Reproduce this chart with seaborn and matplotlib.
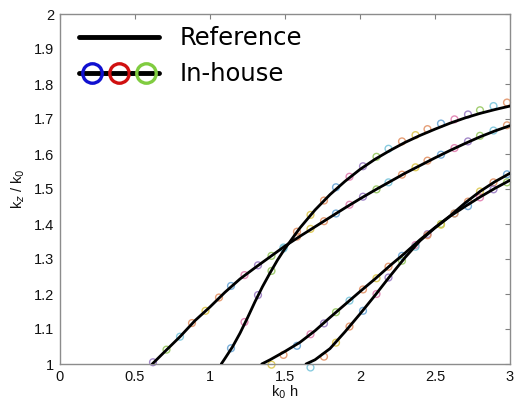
import numpy as np
import pandas as pd
import seaborn as sns
import matplotlib.pyplot as plt
from matplotlib.lines import Line2D
from matplotlib.legend_handler import HandlerTuple

# Reference curves (solid black)
ref1_x = [0.615, 0.70, 0.80, 0.90, 1.00, 1.10, 1.20, 1.30, 1.40, 1.50, 1.60, 1.70, 1.80,
          1.90, 2.00, 2.10, 2.20, 2.30, 2.40, 2.50, 2.60, 2.70, 2.80, 2.90, 3.00]
ref1_y = [1.000, 1.036, 1.078, 1.124, 1.163, 1.205, 1.243, 1.275, 1.306, 1.337, 1.365, 1.392, 1.419,
          1.446, 1.472, 1.497, 1.521, 1.545, 1.567, 1.589, 1.610, 1.630, 1.649, 1.666, 1.681]

ref2_x = [1.075, 1.10, 1.15, 1.20, 1.25, 1.30, 1.35, 1.40, 1.45, 1.50, 1.60, 1.70, 1.80, 1.90,
          2.00, 2.10, 2.20, 2.30, 2.40, 2.50, 2.60, 2.70, 2.80, 2.90, 3.00]
ref2_y = [1.000, 1.016, 1.049, 1.088, 1.132, 1.178, 1.221, 1.260, 1.297, 1.330, 1.389, 1.440, 1.484, 1.522,
          1.556, 1.585, 1.610, 1.633, 1.653, 1.671, 1.688, 1.703, 1.716, 1.727, 1.737]

ref3_x = [1.345, 1.40, 1.50, 1.60, 1.70, 1.80, 1.90, 2.00, 2.10, 2.20, 2.30, 2.40, 2.50,
          2.60, 2.70, 2.80, 2.90, 3.00]
ref3_y = [1.000, 1.012, 1.036, 1.062, 1.095, 1.133, 1.170, 1.207, 1.243, 1.281, 1.317, 1.355, 1.390,
          1.423, 1.460, 1.493, 1.521, 1.545]

ref4_x = [1.64, 1.70, 1.80, 1.90, 2.00, 2.10, 2.20, 2.30, 2.40, 2.50, 2.60, 2.70, 2.80, 2.90, 3.00]
ref4_y = [1.000, 1.012, 1.044, 1.092, 1.143, 1.196, 1.251, 1.304, 1.352, 1.389, 1.422, 1.450, 1.477,
          1.502, 1.525]

# In-house results (hollow circles)
ih1_x = [0.62, 0.71, 0.80, 0.88, 0.97, 1.06, 1.14, 1.23, 1.32, 1.41, 1.49, 1.58, 1.67, 1.76,
         1.84, 1.93, 2.02, 2.11, 2.19, 2.28, 2.37, 2.45, 2.54, 2.63, 2.72, 2.80, 2.89, 2.98]
ih1_y = [1.005, 1.041, 1.078, 1.117, 1.152, 1.190, 1.223, 1.254, 1.282, 1.309, 1.333, 1.364, 1.386, 1.408,
         1.430, 1.455, 1.478, 1.499, 1.519, 1.541, 1.562, 1.581, 1.598, 1.617, 1.636, 1.652, 1.667, 1.682]

ih2_x = [1.14, 1.23, 1.32, 1.41, 1.49, 1.58, 1.67, 1.76, 1.84, 1.93, 2.02, 2.11, 2.19, 2.28,
         2.37, 2.45, 2.54, 2.63, 2.72, 2.80, 2.89, 2.98]
ih2_y = [1.045, 1.120, 1.197, 1.266, 1.330, 1.378, 1.426, 1.467, 1.505, 1.535, 1.565, 1.592, 1.615, 1.636,
         1.654, 1.671, 1.687, 1.699, 1.713, 1.725, 1.737, 1.747]

ih3_x = [1.41, 1.49, 1.58, 1.67, 1.76, 1.84, 1.93, 2.02, 2.11, 2.19, 2.28, 2.37, 2.45, 2.54,
         2.63, 2.72, 2.80, 2.89, 2.98]
ih3_y = [0.998, 1.026, 1.052, 1.085, 1.116, 1.148, 1.181, 1.213, 1.245, 1.278, 1.309, 1.340, 1.371, 1.400,
         1.430, 1.464, 1.493, 1.519, 1.542]

ih4_x = [1.67, 1.76, 1.84, 1.93, 2.02, 2.11, 2.19, 2.28, 2.37, 2.45, 2.54, 2.63, 2.72, 2.80, 2.89, 2.98]
ih4_y = [0.990, 1.021, 1.061, 1.107, 1.152, 1.200, 1.247, 1.295, 1.335, 1.368, 1.398, 1.430, 1.451, 1.476,
         1.499, 1.519]

marker_colors = ['#9a7cc4', '#e39468', '#6aa6d6', '#98c862', '#ddc850', '#e07fb0', '#7cc6dc', '#e39468']

x_ticks = [0, 0.5, 1, 1.5, 2, 2.5, 3]
y_ticks = [1, 1.1, 1.2, 1.3, 1.4, 1.5, 1.6, 1.7, 1.8, 1.9, 2]

sns.set_style('white')
plt.rcParams['font.family'] = ['DejaVu Sans']
plt.rcParams['text.color'] = 'black'

fig = plt.figure(figsize=(5.17, 4.04), dpi=100)
ax = fig.add_axes([60 / 517, 40 / 404, 450 / 517, 350 / 404])

# markers first, lines drawn on top
for k, (mx, my) in enumerate([(ih1_x, ih1_y), (ih2_x, ih2_y), (ih3_x, ih3_y), (ih4_x, ih4_y)]):
    cols = [marker_colors[(i * 3 + k * 2) % len(marker_colors)] for i in range(len(mx))]
    sns.scatterplot(x=mx, y=my, ax=ax, s=24, marker='o', facecolor='none',
                    edgecolor=cols, linewidth=1.0, alpha=0.9, zorder=2, clip_on=False)

for rx, ry in [(ref1_x, ref1_y), (ref2_x, ref2_y), (ref3_x, ref3_y), (ref4_x, ref4_y)]:
    sns.lineplot(x=rx, y=ry, ax=ax, color='black', lw=2.0, sort=False, estimator=None, zorder=3)

ax.set_xlim(0, 3)
ax.set_ylim(1, 2)
ax.set_xticks(x_ticks)
ax.set_xticklabels(['0', '0.5', '1', '1.5', '2', '2.5', '3'])
ax.set_yticks(y_ticks)
ax.set_yticklabels(['1', '1.1', '1.2', '1.3', '1.4', '1.5', '1.6', '1.7', '1.8', '1.9', '2'])
ax.tick_params(direction='in', top=True, right=True, length=3.5, width=0.8, color='#808080',
               labelsize=10.5, labelcolor='#111111', pad=4)
for lab in ax.get_xticklabels() + ax.get_yticklabels():
    lab.set_fontfamily('Liberation Sans')
for sp in ax.spines.values():
    sp.set_color('#8c8c8c')
    sp.set_linewidth(1.0)

ax.set_xlabel(r'k$_0$ h', fontsize=10.5, family='Liberation Sans', labelpad=0, color='#111111')
ax.set_ylabel(r'k$_z$ / k$_0$', fontsize=10.5, family='Liberation Sans', labelpad=5, color='#111111')

# legend
ref_handle = Line2D([], [], color='black', lw=3.5)
ih_handles = tuple(Line2D([], [], color='black', lw=3.5, marker='o', markersize=14,
                          markerfacecolor='none', markeredgewidth=2.4, markeredgecolor=c)
                   for c in ['#1010d0', '#d01010', '#80cc40'])
leg = ax.legend([ref_handle, ih_handles], ['Reference', 'In-house'],
                handler_map={tuple: HandlerTuple(ndivide=None, pad=0)},
                loc='upper left', bbox_to_anchor=(0.042, 0.965), borderaxespad=0, borderpad=0,
                frameon=False, fontsize=17.5, handlelength=3.3, handletextpad=0.85,
                labelspacing=0.5, numpoints=1)
for t in leg.get_texts():
    t.set_color('black')

fig.savefig('out.png', dpi=100)
